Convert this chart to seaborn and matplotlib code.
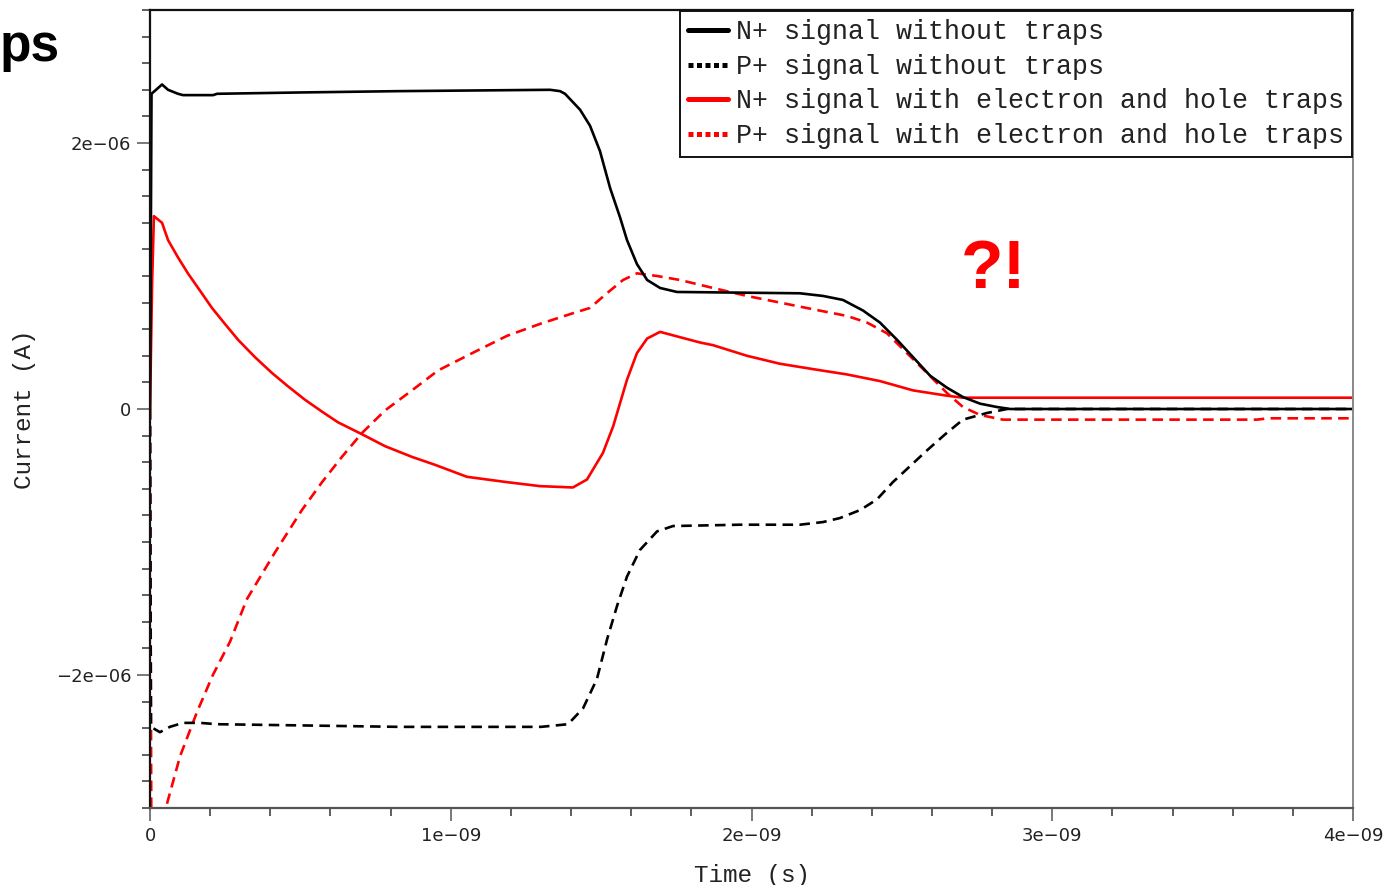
import numpy as np
import pandas as pd
import matplotlib
matplotlib.use("Agg")
import matplotlib.pyplot as plt
from matplotlib.lines import Line2D
from matplotlib.ticker import FixedLocator, FixedFormatter, MultipleLocator
import seaborn as sns

# ---------------- data (time in ns, current in uA) ----------------
t_n_notrap = [0, 0.005, 0.01, 0.04, 0.06, 0.093, 0.11, 0.21, 0.223, 0.5, 0.83, 1.33, 1.363,
              1.38, 1.43, 1.463, 1.496, 1.53, 1.563, 1.586, 1.619, 1.653, 1.696, 1.752, 2.161,
              2.238, 2.304, 2.371, 2.427, 2.484, 2.537, 2.594, 2.65, 2.703, 2.76, 2.816, 2.86, 4.0]
i_n_notrap = [0, 2.37, 2.38, 2.44, 2.40, 2.37, 2.36, 2.36, 2.37, 2.38, 2.39, 2.40, 2.39,
              2.37, 2.25, 2.13, 1.94, 1.66, 1.44, 1.27, 1.09, 0.97, 0.91, 0.88, 0.87,
              0.85, 0.82, 0.74, 0.65, 0.52, 0.39, 0.25, 0.16, 0.09, 0.04, 0.015, 0.0, 0.0]

t_p_notrap = [0, 0.003, 0.033, 0.066, 0.11, 0.166, 0.223, 0.53, 0.83, 1.30, 1.39, 1.44, 1.486,
              1.52, 1.553, 1.586, 1.629, 1.686, 1.739, 1.962, 2.161, 2.238, 2.294, 2.361, 2.417,
              2.47, 2.527, 2.584, 2.644, 2.703, 2.783, 2.85, 4.0]
i_p_notrap = [0, -2.39, -2.43, -2.39, -2.36, -2.36, -2.37, -2.38, -2.39, -2.39, -2.37, -2.25, -2.03,
              -1.73, -1.48, -1.26, -1.06, -0.92, -0.88, -0.87, -0.87, -0.85, -0.82, -0.76, -0.68,
              -0.55, -0.43, -0.31, -0.19, -0.08, -0.03, 0.0, 0.0]

t_n_trap = [0, 0.007, 0.013, 0.04, 0.06, 0.093, 0.126, 0.16, 0.206, 0.249, 0.293, 0.349, 0.406,
            0.459, 0.515, 0.572, 0.625, 0.705, 0.782, 0.871, 0.948, 1.054, 1.187, 1.297, 1.406,
            1.453, 1.506, 1.54, 1.586, 1.619, 1.653, 1.696, 1.762, 1.829, 1.872, 1.985, 2.095,
            2.204, 2.317, 2.427, 2.537, 2.65, 2.703, 4.0]
i_n_trap = [0, 0.95, 1.45, 1.40, 1.27, 1.14, 1.02, 0.91, 0.76, 0.64, 0.52, 0.39, 0.27,
            0.17, 0.07, -0.02, -0.10, -0.19, -0.28, -0.36, -0.42, -0.51, -0.55, -0.58, -0.59,
            -0.53, -0.33, -0.13, 0.22, 0.42, 0.53, 0.58, 0.54, 0.50, 0.48, 0.40, 0.34,
            0.30, 0.26, 0.21, 0.14, 0.10, 0.085, 0.085]

t_p_trap = [0, 0.005, 0.03, 0.055, 0.1, 0.156, 0.209, 0.266, 0.322, 0.415, 0.505, 0.572, 0.638,
            0.705, 0.782, 0.871, 0.958, 1.08, 1.187, 1.297, 1.406, 1.463, 1.519, 1.573, 1.619,
            1.686, 1.762, 1.872, 1.985, 2.095, 2.204, 2.317, 2.384, 2.45, 2.517, 2.584, 2.65,
            2.703, 2.76, 2.836, 3.68, 3.72, 4.0]
i_p_trap = [0, -3.6, -3.5, -2.98, -2.61, -2.28, -2.0, -1.75, -1.43, -1.08, -0.76, -0.55, -0.36,
            -0.18, -0.01, 0.14, 0.29, 0.43, 0.55, 0.64, 0.72, 0.76, 0.87, 0.97, 1.02,
            1.00, 0.97, 0.91, 0.85, 0.80, 0.75, 0.70, 0.65, 0.57, 0.42, 0.27, 0.12,
            0.015, -0.045, -0.08, -0.08, -0.07, -0.07]

labels = ["N+ signal without traps", "P+ signal without traps",
          "N+ signal with electron and hole traps", "P+ signal with electron and hole traps"]
colors = ["#000000", "#000000", "#ff0000", "#ff0000"]

xtick_vals = [0, 1e-9, 2e-9, 3e-9, 4e-9]
xtick_labels = ["0", "1e\u221209", "2e\u221209", "3e\u221209", "4e\u221209"]
ytick_vals = [-2e-6, 0, 2e-6]
ytick_labels = ["\u22122e\u221206", "0", "2e\u221206"]

# ---------------- style ----------------
sns.set_theme(style="white")
plt.rcParams["font.family"] = ["DejaVu Sans"]
mono = ["Liberation Mono", "DejaVu Sans Mono"]

fig = plt.figure(figsize=(13.91, 8.85), dpi=100)
ax = fig.add_axes([0.10784, 0.08701, 0.86485, 0.90169])

series = [
    (t_n_trap, i_n_trap, colors[2], "-"),
    (t_p_trap, i_p_trap, colors[3], (0, (4, 2.4))),
    (t_n_notrap, i_n_notrap, colors[0], "-"),
    (t_p_notrap, i_p_notrap, colors[1], (0, (4, 2.4))),
]
for t, i, c, ls in series:
    df = pd.DataFrame({"t": np.array(t) * 1e-9, "i": np.array(i) * 1e-6})
    sns.lineplot(data=df, x="t", y="i", ax=ax, color=c, estimator=None, sort=False,
                 legend=False, linewidth=1.9)
    ax.lines[-1].set_linestyle(ls)

ax.set_xlim(0, 4e-9)
ax.set_ylim(-3e-6, 3e-6)

ax.xaxis.set_major_locator(FixedLocator(xtick_vals))
ax.xaxis.set_major_formatter(FixedFormatter(xtick_labels))
ax.xaxis.set_minor_locator(MultipleLocator(0.2e-9))
ax.yaxis.set_major_locator(FixedLocator(ytick_vals))
ax.yaxis.set_major_formatter(FixedFormatter(ytick_labels))
ax.yaxis.set_minor_locator(MultipleLocator(0.2e-6))

ax.tick_params(axis="both", which="major", direction="out", length=9.5, width=1.1,
               color="#555555", labelsize=13, labelcolor="#222222", pad=4)
ax.tick_params(axis="both", which="minor", direction="out", length=5.5, width=1.1,
               color="#333333")
ax.tick_params(axis="x", which="both", bottom=True)
ax.tick_params(axis="y", which="both", left=True)

for side, col, lw in [("left", "#111111", 1.6), ("bottom", "#555555", 1.6),
                      ("right", "#888888", 1.4), ("top", "#111111", 1.6)]:
    ax.spines[side].set_visible(True)
    ax.spines[side].set_color(col)
    ax.spines[side].set_linewidth(lw)

ax.set_xlabel("Time (s)", fontsize=17.5, family=mono, color="#222222", labelpad=14)
ax.set_ylabel("Current (A)", fontsize=17.5, family=mono, color="#222222")
ax.yaxis.set_label_coords(-0.095, 0.5)

handles = [
    Line2D([], [], color=colors[0], lw=3.6, linestyle="-"),
    Line2D([], [], color=colors[1], lw=3.6, linestyle=(0, (1.0, 0.7))),
    Line2D([], [], color=colors[2], lw=3.6, linestyle="-"),
    Line2D([], [], color=colors[3], lw=3.6, linestyle=(0, (1.0, 0.7))),
]
leg = ax.legend(handles, labels, loc="upper right", borderaxespad=0.05,
                prop={"family": mono, "size": 19.2}, frameon=True, fancybox=False,
                framealpha=1, edgecolor="#111111", handlelength=1.5,
                handletextpad=0.3, labelspacing=0.32, borderpad=0.3)
leg.get_frame().set_linewidth(1.4)
for txt in leg.get_texts():
    txt.set_color("#222222")

fig.text(0.0, 0.946, "ps", fontsize=37, fontweight="bold", family="Liberation Sans",
         color="#000000", ha="left", va="center")
fig.text(0.714, 0.695, "?!", fontsize=50, fontweight="bold", family="Liberation Sans",
         color="#ff0000", ha="center", va="center")

fig.savefig("out.png", dpi=100)
